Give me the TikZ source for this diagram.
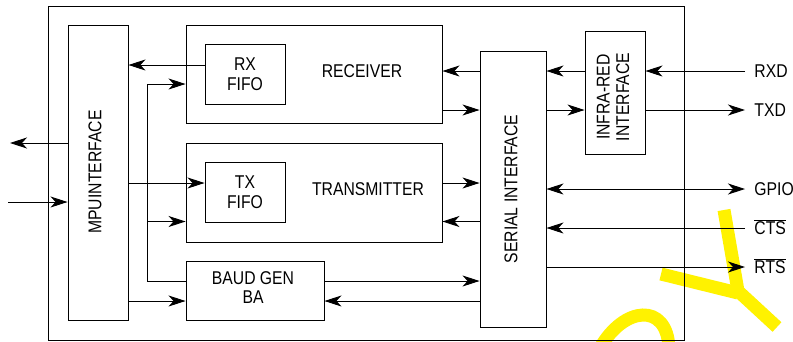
\documentclass[tikz,border=0pt]{standalone}
\usepackage{fontspec}
\setmainfont{Liberation Sans}[FakeStretch=0.85]
\usetikzlibrary{arrows.meta}

\begin{document}
\begin{tikzpicture}[x=1pt, y=-1pt, >={Stealth[length=17pt,width=11pt,inset=5pt]},
  font=\fontsize{18.5}{19.5}\selectfont, line width=0.9pt,
  box/.style={draw, inner sep=0pt},
  sig/.style={anchor=west, inner xsep=9pt, inner ysep=0pt, text height=13.5pt, text depth=0pt},
  mark line/.style={yellow, line width=13pt}]
\useasboundingbox (0,0) rectangle (793,341);
\begin{scope}
\clip (0,0) rectangle (793,341);
\draw[mark line] (724,210) -- (738,291) -- (777,327);
\draw[mark line] (661,274) -- (738,293);
\draw[mark line] (600,348) .. controls (624,306) and (667,302) .. (669,348);
\end{scope}
\node[box, minimum width=636, minimum height=334] (chip) at (366,173) {};
\node[box, minimum width=60, minimum height=295] (mpu) at (98,172.5) {};
\node[rotate=90] (mput) at (95,172) {MPUINTERFACE};
\node[box, minimum width=256, minimum height=98] (rcv) at (314,74) {};
\node[box, minimum width=80, minimum height=60, align=center] (rxf) at (245,74) {RX\\FIFO};
\node (rcvt) at (362,71) {RECEIVER};
\node[box, minimum width=256, minimum height=99] (trn) at (314,192.5) {};
\node[box, minimum width=80, minimum height=60, align=center] (txf) at (245,192) {TX\\FIFO};
\node (trnt) at (368,189) {TRANSMITTER};
\node[box, minimum width=138, minimum height=59] (baud) at (255,290.5) {};
\node[align=center] (baudt) at (253,287.5) {BAUD GEN\\BA};
\node[box, minimum width=66, minimum height=276] (ser) at (513,189) {};
\node[rotate=90] (sert) at (511,189) {SERIAL INTERFACE};
\node[box, minimum width=60, minimum height=123] (ir) at (615,92.5) {};
\node[rotate=90, align=center] (irt) at (613,97) {INFRA-RED\\INTERFACE};
\node[sig] (rxd) at (745,71) {RXD};
\node[sig] (txd) at (745,110) {TXD};
\node[sig] (gpio) at (745,189) {GPIO};
\node[sig] (cts) at (745,228) {$\overline{\mbox{CTS}}$};
\node[sig] (rts) at (745,267) {$\overline{\mbox{RTS}}$};
\coordinate (dout) at (10,143);
\coordinate (din) at (8,202);
\coordinate (bus) at (147,281);
\coordinate (r1) at (0,65);
\coordinate (r2) at (0,84);
\coordinate (r3) at (0,183);
\coordinate (r4) at (0,221.5);
\coordinate (r6) at (0,301);
\coordinate (s1) at (0,71);
\coordinate (s2) at (0,110);
\draw[->] (rxf.west |- r1) -- (mpu.east |- r1);
\draw[->] (baud.west |- bus) -- (bus) |- (rcv.west |- r2);
\draw[->] (bus |- r4) -- (trn.west |- r4);
\draw[->] (mpu.east |- r3) -- (txf.west |- r3);
\draw[->] (mpu.east |- r6) -- (baud.west |- r6);
\draw[->] (mpu.west |- dout) -- (dout);
\draw[->] (din) -- (mpu.west |- din);
\draw[->] (ser.west |- s1) -- (rcv.east |- s1);
\draw[->] (rcv.east |- s2) -- (ser.west |- s2);
\draw[->] (trn.east |- r3) -- (ser.west |- r3);
\draw[->] (ser.west |- r4) -- (trn.east |- r4);
\draw[->] (baud.east |- bus) -- (ser.west |- bus);
\draw[->] (ser.west |- r6) -- (baud.east |- r6);
\draw[->] (ir.west |- s1) -- (ser.east |- s1);
\draw[->] (ser.east |- s2) -- (ir.west |- s2);
\draw[->] (rxd.west) -- (ir.east |- rxd.west);
\draw[->] (ir.east |- txd.west) -- (txd.west);
\draw[<->] (ser.east |- gpio.west) -- (gpio.west);
\draw[->] (cts.west) -- (ser.east |- cts.west);
\draw[->] (ser.east |- rts.west) -- (rts.west);
\end{tikzpicture}
\end{document}
